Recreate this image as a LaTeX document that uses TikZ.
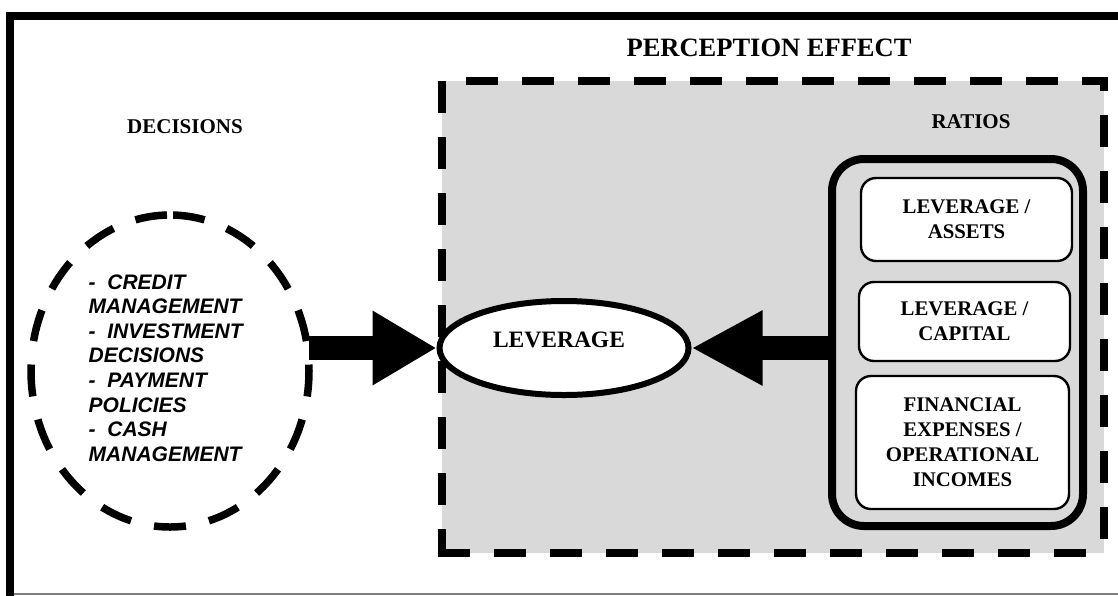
\documentclass[tikz,border=0pt]{standalone}
\usepackage{fontspec}
\setmainfont{Liberation Serif}
\setsansfont{Liberation Sans}
\usetikzlibrary{arrows.meta,shapes.geometric}
\definecolor{panelgray}{RGB}{217,217,217}
\definecolor{rulegray}{RGB}{128,128,128}
\tikzset{
  heading/.style={font=\fontsize{21}{25}\selectfont\bfseries, inner sep=0pt},
  ratiobox/.style={draw, line width=2.4pt, rounded corners=15pt, fill=white,
    font=\fontsize{20.8}{25}\selectfont\bfseries, align=center, inner sep=0pt},
  paneledge/.style={line width=7.5pt, dash pattern=on 32pt off 24pt},
  dashring/.style={line width=7.5pt, dash pattern=on 32pt off 23.6pt, dash phase=52.6pt},
  bigarrow/.style={line width=24pt, -{Triangle[length=#1, width=70pt]}},
}
\begin{document}
\begin{tikzpicture}[x=1pt,y=-1pt]
\useasboundingbox (0,0) rectangle (1118,595);

% outer frame: heavy rule on top and left, hairline at the bottom
\draw[line width=8pt, line join=miter] (10,599) -- (10,16) -- (1122,16);
\draw[rulegray, line width=1.2pt] (14,594) -- (1118,594);

% perception panel, its dashed edge laid out side by side
\fill[panelgray] (442,81) rectangle (1104,553);
\draw[paneledge, dash phase=32pt, line join=miter] (442,81) -- (1104,81) -- (1104,553);
\draw[paneledge] (442,81) -- (442,556.75);
\draw[paneledge] (438.25,553) -- (1104,553);

\node[font=\fontsize{26.5}{30}\selectfont\bfseries, inner sep=0pt] (title) at (769,48) {PERCEPTION EFFECT};
\node[heading] (dechead) at (185,127) {DECISIONS};
\node[heading] (rathead) at (971,122) {RATIOS};

% decisions
\node[ellipse, minimum width=278pt, minimum height=312pt, inner sep=0pt, outer sep=0pt] (dec) at (170,371) {};
\draw[dashring] (dec.north) arc[start angle=90, end angle=450, x radius=139pt, y radius=156pt];
\node[font=\fontsize{21}{24.6}\selectfont\sffamily\bfseries\itshape, align=left, anchor=west, inner sep=0pt]
  (declist) at (88.5,368) {-~~CREDIT\\MANAGEMENT\\-~~INVESTMENT\\DECISIONS\\-~~PAYMENT\\POLICIES\\-~~CASH\\MANAGEMENT};

% leverage
\node[ellipse, draw, line width=6pt, fill=white, minimum width=249pt, minimum height=94pt, inner sep=0pt] (lev) at (564,348) {};
\node[font=\fontsize{23.5}{28}\selectfont\bfseries, inner sep=0pt] (levtext) at (559,340) {LEVERAGE};

% ratios
\node[draw, line width=8pt, rounded corners=32pt, minimum width=251pt, minimum height=367pt, inner sep=0pt] (ratios) at (957.5,342.5) {};
\node[ratiobox, minimum width=211pt, minimum height=83pt] (r1) at (966.5,219.5) {LEVERAGE /\\ASSETS};
\node[ratiobox, minimum width=211pt, minimum height=79pt] (r2) at (964.5,321.5) {LEVERAGE /\\CAPITAL};
\node[ratiobox, minimum width=213pt, minimum height=133pt] (r3) at (962.5,442.5) {FINANCIAL\\EXPENSES /\\OPERATIONAL\\INCOMES};

% influences
\draw[bigarrow=64pt] (dec.east |- lev.west) -- (lev.west);
\draw[bigarrow=71pt] (ratios.west |- lev.east) -- (lev.east);
\end{tikzpicture}
\end{document}
